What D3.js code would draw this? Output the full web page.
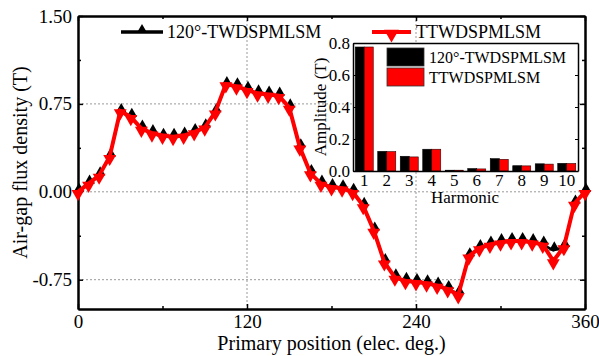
<!DOCTYPE html>
<html>
<head>
<meta charset="utf-8">
<script src="https://cdn.jsdelivr.net/npm/d3@7"></script>
<style>
  body { margin: 0; background: #fff; }
  svg { font-family: "Liberation Serif", "Times New Roman", serif; }
</style>
</head>
<body>
<div id="chart"></div>
<script>
// main curves: air-gap flux density vs primary position
let positions = [0, 7.5, 15, 22.5, 30, 37.5, 45, 52.5, 60, 67.5, 75, 82.5, 90, 97.5, 105, 112.5,
  120, 127.5, 135, 142.5, 150, 157.5, 165, 172.5, 180, 187.5, 195, 202.5, 210, 217.5, 225, 232.5,
  240, 247.5, 255, 262.5, 270, 277.5, 285, 292.5, 300, 307.5, 315, 322.5, 330, 337.5, 345, 352.5, 360];
let flux120 = [0.00, 0.07, 0.14, 0.30, 0.68, 0.64, 0.54, 0.50, 0.47, 0.47, 0.48, 0.51, 0.55, 0.68, 0.91, 0.90,
  0.87, 0.84, 0.83, 0.82, 0.72, 0.38, 0.16, 0.07, 0.04, 0.03, 0.00, -0.12, -0.33, -0.60, -0.73, -0.76,
  -0.77, -0.78, -0.80, -0.83, -0.87, -0.55, -0.48, -0.45, -0.43, -0.42, -0.42, -0.43, -0.45, -0.50, -0.47, -0.10, 0.00];
let fluxTT = [0.00, 0.07, 0.14, 0.30, 0.69, 0.64, 0.54, 0.50, 0.48, 0.47, 0.48, 0.51, 0.55, 0.68, 0.92, 0.90,
  0.87, 0.84, 0.83, 0.82, 0.72, 0.38, 0.16, 0.07, 0.04, 0.03, 0.00, -0.12, -0.33, -0.60, -0.73, -0.76,
  -0.77, -0.78, -0.80, -0.83, -0.88, -0.55, -0.48, -0.45, -0.43, -0.42, -0.42, -0.43, -0.45, -0.59, -0.47, -0.10, 0.00];

// inset: harmonic amplitudes
let harmonics = [1, 2, 3, 4, 5, 6, 7, 8, 9, 10];
let amp120 = [0.775, 0.123, 0.092, 0.136, 0.005, 0.015, 0.077, 0.033, 0.045, 0.048];
let ampTT = [0.775, 0.121, 0.088, 0.136, 0.005, 0.013, 0.073, 0.032, 0.043, 0.047];

let seriesNames = ["120°-TWDSPMLSM", "TTWDSPMLSM"];
let yTicks = [-0.75, 0, 0.75, 1.5];
let xTicks = [0, 120, 240, 360];

let w = 599;
let h = 356;

let svg = d3.select("#chart").append("svg")
  .attr("width", w)
  .attr("height", h);

let x = d3.scaleLinear().domain([0, 360]).range([78, 585]);
let y = d3.scaleLinear().domain([-1, 1.5]).range([309, 16]);

// grid
svg.append("g").selectAll("line")
  .data([120, 240])
  .join("line")
  .attr("x1", d => x(d)).attr("x2", d => x(d))
  .attr("y1", y(1.5)).attr("y2", y(-1))
  .attr("stroke", "#999").attr("stroke-width", 1).attr("stroke-dasharray", "2,2");
svg.append("g").selectAll("line")
  .data([-0.75, 0, 0.75])
  .join("line")
  .attr("x1", x(0)).attr("x2", x(360))
  .attr("y1", d => y(d)).attr("y2", d => y(d))
  .attr("stroke", "#999").attr("stroke-width", 1).attr("stroke-dasharray", "2,2");

// axes
function styleAxis(g) {
  g.selectAll("path").attr("stroke", "#000").attr("stroke-width", 2);
  g.selectAll("line").attr("stroke", "#000").attr("stroke-width", 1.5);
  g.selectAll("text").attr("fill", "#000").style("font-size", "19px")
    .style("font-family", "Liberation Serif, Times New Roman, serif");
}

svg.append("g").attr("transform", `translate(${x(0)},0)`)
  .call(d3.axisLeft(y).tickValues(yTicks).tickFormat(d => d.toFixed(2)).tickSizeInner(-5).tickSizeOuter(0).tickPadding(6))
  .call(styleAxis);
svg.append("g").attr("transform", `translate(${x(0)},0)`)
  .call(d3.axisLeft(y).tickValues([-0.375, 0.375, 1.125]).tickFormat("").tickSizeInner(-3).tickSizeOuter(0))
  .call(styleAxis);
svg.append("g").attr("transform", `translate(${x(360)},0)`)
  .call(d3.axisRight(y).tickValues(yTicks).tickFormat("").tickSizeInner(-5).tickSizeOuter(0))
  .call(styleAxis);
svg.append("g").attr("transform", `translate(${x(360)},0)`)
  .call(d3.axisRight(y).tickValues([-0.375, 0.375, 1.125]).tickFormat("").tickSizeInner(-3).tickSizeOuter(0))
  .call(styleAxis);
svg.append("g").attr("transform", `translate(0,${y(-1)})`)
  .call(d3.axisBottom(x).tickValues(xTicks).tickFormat(d3.format("d")).tickSizeInner(-5).tickSizeOuter(0).tickPadding(6))
  .call(styleAxis);
svg.append("g").attr("transform", `translate(0,${y(-1)})`)
  .call(d3.axisBottom(x).tickValues([60, 180, 300]).tickFormat("").tickSizeInner(-3).tickSizeOuter(0))
  .call(styleAxis);
svg.append("g").attr("transform", `translate(0,${y(1.5)})`)
  .call(d3.axisTop(x).tickValues(xTicks).tickFormat("").tickSizeInner(-5).tickSizeOuter(0))
  .call(styleAxis);
svg.append("g").attr("transform", `translate(0,${y(1.5)})`)
  .call(d3.axisTop(x).tickValues([60, 180, 300]).tickFormat("").tickSizeInner(-3).tickSizeOuter(0))
  .call(styleAxis);

// axis titles
svg.append("text")
  .attr("x", (x(0) + x(360)) / 2).attr("y", 350)
  .attr("text-anchor", "middle").style("font-size", "20px")
  .text("Primary position (elec. deg.)");
svg.append("text")
  .attr("transform", `translate(27,${(y(1.5) + y(-1)) / 2}) rotate(-90)`)
  .attr("text-anchor", "middle").style("font-size", "20px")
  .text("Air-gap flux density (T)");

// curves
let line = d3.line().x(d => x(d[0])).y(d => y(d[1]));
let data120 = positions.map((p, i) => [p, flux120[i]]);
let dataTT = positions.map((p, i) => [p, fluxTT[i]]);

let upTri = d3.symbol().type(d3.symbolTriangle).size(48);
let downTri = d3.symbol().type(d3.symbolTriangle).size(72);

svg.append("path").datum(data120)
  .attr("d", line).attr("fill", "none").attr("stroke", "#000").attr("stroke-width", 2.5);
svg.append("g").selectAll("path")
  .data(data120)
  .join("path")
  .attr("d", upTri)
  .attr("transform", d => `translate(${x(d[0]) + 1},${y(d[1]) - 3})`)
  .attr("fill", "#000");

svg.append("path").datum(dataTT)
  .attr("d", line).attr("fill", "none").attr("stroke", "#f00").attr("stroke-width", 4)
  .attr("stroke-linejoin", "miter");
svg.append("g").selectAll("path")
  .data(dataTT)
  .join("path")
  .attr("d", downTri)
  .attr("transform", d => `translate(${x(d[0])},${y(d[1]) + 2}) rotate(180)`)
  .attr("fill", "#f00");

// main legend
let leg1 = svg.append("g").attr("transform", "translate(121,32)");
leg1.append("line").attr("x1", 0).attr("x2", 42).attr("stroke", "#000").attr("stroke-width", 3.5);
leg1.append("path").attr("d", upTri).attr("transform", "translate(21,-2)").attr("fill", "#000");
leg1.append("text").attr("x", 46).attr("y", 6).style("font-size", "18px").text(seriesNames[0]);

let leg2 = svg.append("g").attr("transform", "translate(372,32)");
leg2.append("line").attr("x1", 0).attr("x2", 39).attr("stroke", "#f00").attr("stroke-width", 4);
leg2.append("path").attr("d", d3.symbol().type(d3.symbolTriangle).size(95))
  .attr("transform", "translate(19.5,2) rotate(180)").attr("fill", "#f00");
leg2.append("text").attr("x", 44).attr("y", 6).style("font-size", "18px").text(seriesNames[1]);

// inset bar chart
let ix = d3.scaleBand().domain(harmonics).range([353, 578]).paddingInner(0.2).paddingOuter(0.1);
let iy = d3.scaleLinear().domain([0, 0.8]).range([171, 43]);

svg.append("rect")
  .attr("x", 353).attr("y", 43).attr("width", 225).attr("height", 128)
  .attr("fill", "#fff");

let bw = ix.bandwidth() / 2;
svg.append("g").selectAll("rect")
  .data(harmonics)
  .join("rect")
  .attr("x", d => ix(d))
  .attr("y", (d, i) => iy(amp120[i]))
  .attr("width", bw)
  .attr("height", (d, i) => iy(0) - iy(amp120[i]))
  .attr("fill", "#000").attr("stroke", "#000").attr("stroke-width", 0.6);
svg.append("g").selectAll("rect")
  .data(harmonics)
  .join("rect")
  .attr("x", d => ix(d) + bw)
  .attr("y", (d, i) => iy(ampTT[i]))
  .attr("width", bw)
  .attr("height", (d, i) => iy(0) - iy(ampTT[i]))
  .attr("fill", "#f00").attr("stroke", "#300").attr("stroke-width", 0.6);

function styleInset(g) {
  g.selectAll("path").attr("stroke", "#000").attr("stroke-width", 1.5);
  g.selectAll("line").attr("stroke", "#000").attr("stroke-width", 1);
  g.selectAll("text").attr("fill", "#000").style("font-size", "17px")
    .style("font-family", "Liberation Serif, Times New Roman, serif");
}

svg.append("g").attr("transform", "translate(353,0)")
  .call(d3.axisLeft(iy).ticks(4).tickFormat(d3.format(".1f")).tickSizeInner(-3).tickSizeOuter(0).tickPadding(3))
  .call(styleInset);
svg.append("g").attr("transform", "translate(578,0)")
  .call(d3.axisRight(iy).ticks(4).tickFormat("").tickSizeInner(-3).tickSizeOuter(0))
  .call(styleInset);
svg.append("g").attr("transform", "translate(0,171)")
  .call(d3.axisBottom(ix).tickSize(0).tickPadding(3))
  .call(styleInset);
svg.append("g").attr("transform", "translate(0,43)")
  .call(d3.axisTop(ix).tickSize(0).tickFormat(""))
  .call(styleInset);

svg.append("text")
  .attr("x", 465).attr("y", 203)
  .attr("text-anchor", "middle").style("font-size", "17px")
  .text("Harmonic");
svg.append("text")
  .attr("transform", "translate(326,107) rotate(-90)")
  .attr("text-anchor", "middle").style("font-size", "17px")
  .text("Amplitude (T)");

// inset legend
let ilegColors = ["#000", "#f00"];
let ileg = svg.append("g").selectAll("g")
  .data(seriesNames)
  .join("g")
  .attr("transform", (d, i) => `translate(387,${48 + i * 20})`);
ileg.append("rect")
  .attr("width", 37).attr("height", 18)
  .attr("fill", (d, i) => ilegColors[i]).attr("stroke", "#333").attr("stroke-width", 0.8);
ileg.append("text")
  .attr("x", 42).attr("y", 15)
  .style("font-size", "16px")
  .text(d => d);
</script>
</body>
</html>
